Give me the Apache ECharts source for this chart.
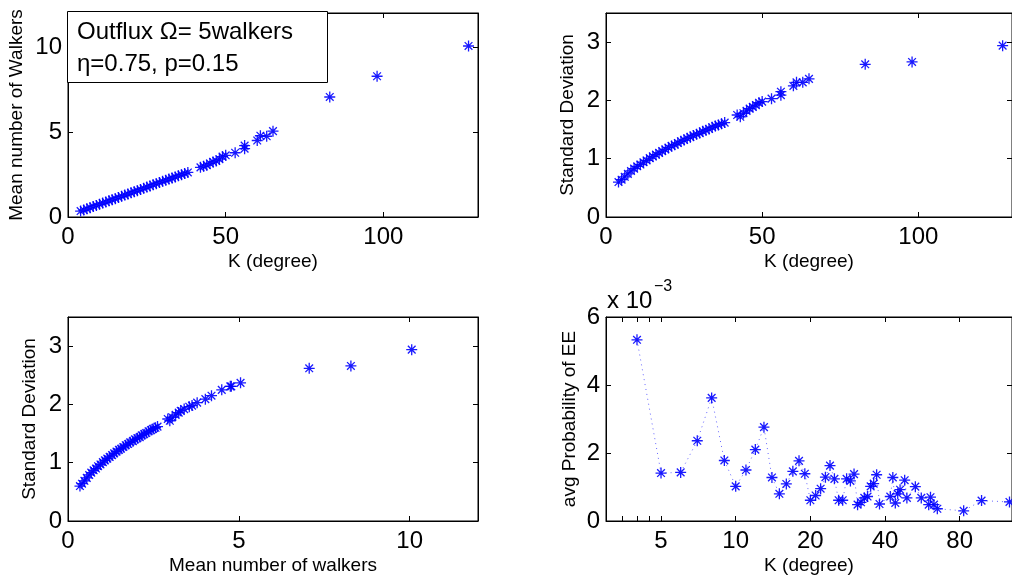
<!DOCTYPE html>
<html>
<head>
<meta charset="utf-8">
<script src="https://cdn.jsdelivr.net/npm/echarts@6/dist/echarts.min.js"></script>
<style>
  html, body { margin: 0; padding: 0; background: #fff; }
  #chart { width: 1012px; height: 581px; }
</style>
</head>
<body>
<div id="chart"></div>
<script>
// node degree K, mean number of walkers, standard deviation (one entry per node)
const kDegree = [4, 5, 6, 7, 8, 9, 10, 11, 12, 13, 14, 15, 16, 17, 18, 19, 20, 21, 22, 23,
  24, 25, 26, 27, 28, 29, 30, 31, 32, 33, 34, 35, 36, 37, 38,
  42, 43, 44, 45, 46, 47, 48, 49, 50, 53, 56, 56, 60, 61, 63, 65, 83, 98, 127];
const meanWalkers = [0.35, 0.41, 0.48, 0.55, 0.62, 0.68, 0.75, 0.82, 0.88, 0.95, 1.02, 1.08, 1.15, 1.22, 1.29, 1.35, 1.42, 1.49, 1.55, 1.62,
  1.69, 1.76, 1.82, 1.90, 1.96, 2.03, 2.10, 2.16, 2.23, 2.29, 2.36, 2.43, 2.49, 2.56, 2.62,
  2.92, 2.98, 3.05, 3.15, 3.24, 3.30, 3.40, 3.55, 3.63, 3.78, 4.02, 4.20, 4.50, 4.78, 4.75, 5.05, 7.06, 8.28, 10.06];
const stdWalkers = [0.60, 0.64, 0.69, 0.74, 0.79, 0.83, 0.87, 0.90, 0.94, 0.97, 1.01, 1.04, 1.07, 1.10, 1.13, 1.16, 1.19, 1.22, 1.24, 1.27,
  1.30, 1.32, 1.35, 1.37, 1.40, 1.42, 1.44, 1.47, 1.49, 1.51, 1.54, 1.56, 1.58, 1.60, 1.62,
  1.75, 1.72, 1.78, 1.82, 1.86, 1.89, 1.92, 1.96, 1.98, 2.03, 2.09, 2.15, 2.25, 2.31, 2.31, 2.37, 2.62, 2.66, 2.94];

// per-degree average probability of EE (x 10^-3)
const kUnique = [4, 5, 6, 7, 8, 9, 10, 11, 12, 13, 14, 15, 16, 17, 18, 19, 20, 21, 22, 23,
  24, 25, 26, 27, 28, 29, 30, 31, 32, 33, 34, 35, 36, 37, 38,
  42, 43, 44, 45, 46, 48, 49, 53, 56, 60, 61, 63, 65, 83, 98, 127];
const avgProbEE = [5.33, 1.41, 1.43, 2.36, 3.62, 1.78, 1.02, 1.50, 2.10, 2.76, 1.28, 0.80, 1.09, 1.46, 1.77, 1.39, 0.61, 0.75, 0.95, 1.29,
  1.63, 1.24, 0.61, 0.61, 1.24, 1.18, 1.38, 0.48, 0.55, 0.68, 0.72, 1.02, 1.10, 1.36, 0.50,
  0.72, 1.28, 0.53, 0.80, 0.92, 1.20, 0.68, 1.01, 0.68, 0.48, 0.70, 0.48, 0.36, 0.30, 0.60, 0.56];

// tick positions
const kTicks = [0, 50, 100];
const meanTicks = [0, 5, 10];
const stdTicks = [0, 1, 2, 3];
const probTicks = [0, 2, 4, 6];
const kLogLabels = [5, 10, 20, 40, 80];
const kLogTicks = [3.5, 4, 4.5, 5, 10, 20, 40, 80];

const FONT = 'Liberation Sans, Arial, Helvetica, sans-serif';
const BLUE = '#0000ff';
// matlab style '*' marker
const STAR = 'path://M0,5L10,5M5,0L5,10M1.5,1.5L8.5,8.5M8.5,1.5L1.5,8.5';

const grids = [
  { left: 68, top: 13, width: 410, height: 204 },
  { left: 606, top: 13, width: 410, height: 204 },
  { left: 68, top: 317, width: 410, height: 204 },
  { left: 606, top: 317, width: 410, height: 204 }
].map(g => Object.assign({ show: true, borderColor: '#000', borderWidth: 1, backgroundColor: '#fff' }, g));

function axis(gi, pos, type, min, max, ticks, labels, name, gap) {
  const mirror = pos === 'top' || pos === 'right';
  return {
    type: type,
    gridIndex: gi,
    position: pos,
    min: min,
    max: max,
    logBase: 10,
    name: mirror ? '' : name,
    nameLocation: 'middle',
    nameGap: gap,
    nameTextStyle: { fontFamily: FONT, fontSize: 19, color: '#000' },
    axisLine: { show: true, onZero: false, lineStyle: { color: '#000', width: 1 } },
    axisTick: { show: true, inside: true, length: 5, customValues: ticks, lineStyle: { color: '#000' } },
    axisLabel: {
      show: !mirror, customValues: labels, margin: pos === 'bottom' ? 8 : 6,
      fontFamily: FONT, fontSize: 24, color: '#000'
    },
    splitLine: { show: false }
  };
}

const xAxes = [
  axis(0, 'bottom', 'value', 0, 130, kTicks, kTicks, 'K (degree)', 35),
  axis(1, 'bottom', 'value', 0, 130, kTicks, kTicks, 'K (degree)', 35),
  axis(2, 'bottom', 'value', 0, 12, meanTicks, meanTicks, 'Mean number of walkers', 35),
  axis(3, 'bottom', 'log', 3, 130, kLogTicks, kLogLabels, 'K (degree)', 35),
  axis(0, 'top', 'value', 0, 130, kTicks, kTicks),
  axis(1, 'top', 'value', 0, 130, kTicks, kTicks),
  axis(2, 'top', 'value', 0, 12, meanTicks, meanTicks),
  axis(3, 'top', 'log', 3, 130, kLogTicks, kLogLabels)
];
const yAxes = [
  axis(0, 'left', 'value', 0, 12, meanTicks, meanTicks, 'Mean number of Walkers', 42),
  axis(1, 'left', 'value', 0, 3.5, stdTicks, stdTicks, 'Standard Deviation', 29),
  axis(2, 'left', 'value', 0, 3.5, stdTicks, stdTicks, 'Standard Deviation', 29),
  axis(3, 'left', 'value', 0, 6, probTicks, probTicks, 'avg Probability of EE', 27),
  axis(0, 'right', 'value', 0, 12, meanTicks, meanTicks),
  axis(1, 'right', 'value', 0, 3.5, stdTicks, stdTicks),
  axis(2, 'right', 'value', 0, 3.5, stdTicks, stdTicks),
  axis(3, 'right', 'value', 0, 6, probTicks, probTicks)
];

function starSeries(i, xs, ys, type) {
  const s = {
    type: type,
    xAxisIndex: i,
    yAxisIndex: i,
    data: xs.map((x, j) => [x, ys[j]]),
    symbol: STAR,
    symbolSize: 11,
    animation: false,
    itemStyle: { color: BLUE, borderColor: BLUE, borderWidth: 1.3, opacity: 0.9 },
    z: 3
  };
  if (type === 'line') {
    s.showAllSymbol = true;
    s.lineStyle = { color: BLUE, width: 1, type: [1, 4], opacity: 0.6 };
  }
  return s;
}

const chart = echarts.init(document.getElementById('chart'));
chart.setOption({
  backgroundColor: '#fff',
  animation: false,
  grid: grids,
  xAxis: xAxes,
  yAxis: yAxes,
  series: [
    starSeries(0, kDegree, meanWalkers, 'scatter'),
    starSeries(1, kDegree, stdWalkers, 'scatter'),
    starSeries(2, meanWalkers, stdWalkers, 'scatter'),
    starSeries(3, kUnique, avgProbEE, 'line')
  ],
  graphic: [
    {
      type: 'rect', z: 10,
      shape: { x: 67.5, y: 11.5, width: 260, height: 71 },
      style: { fill: '#fff', stroke: '#000', lineWidth: 1 }
    },
    {
      type: 'text', z: 11, left: 77, top: 20,
      style: { text: 'Outflux \u03A9= 5walkers', font: '24px ' + FONT, fill: '#000' }
    },
    {
      type: 'text', z: 11, left: 77, top: 52,
      style: { text: '\u03B7=0.75, p=0.15', font: '24px ' + FONT, fill: '#000' }
    },
    {
      type: 'text', left: 607, top: 289,
      style: { text: 'x 10', font: '24px ' + FONT, fill: '#000' }
    },
    {
      type: 'text', left: 654, top: 279,
      style: { text: '\u22123', font: '16px ' + FONT, fill: '#000' }
    }
  ]
});
</script>
</body>
</html>
